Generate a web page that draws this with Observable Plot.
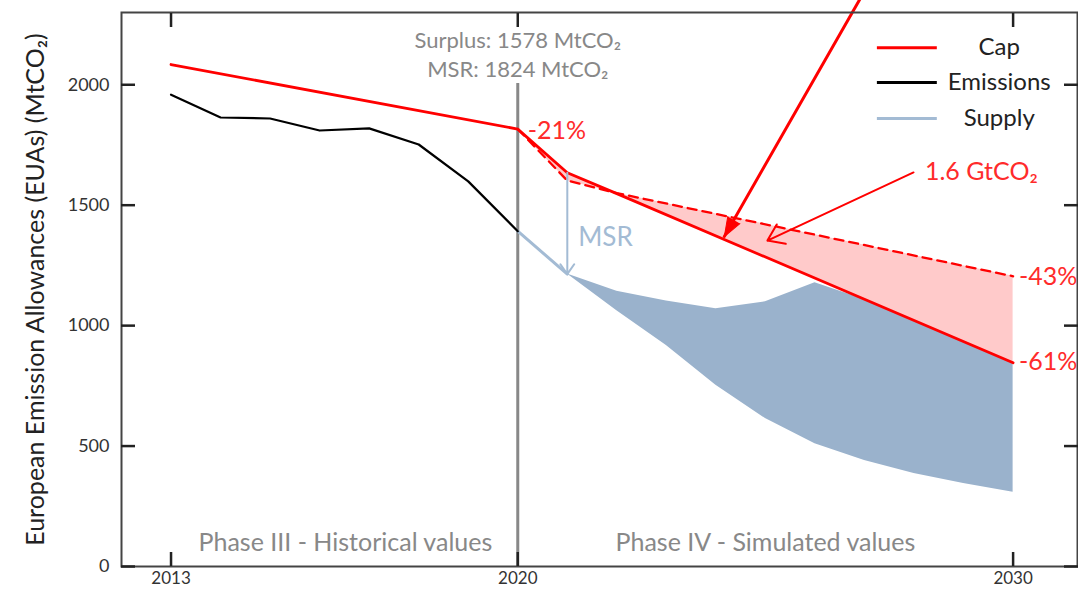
<!DOCTYPE html>
<html><head><meta charset="utf-8">
<script src="https://cdn.jsdelivr.net/npm/d3@7"></script>
<script src="https://cdn.jsdelivr.net/npm/@observablehq/plot@0.6"></script>
<style>body{margin:0;background:#fff;} svg{overflow:visible}</style>
</head><body><div id="chart"></div>
<script>
// ---- data ----
const histYears = [2013, 2014, 2015, 2016, 2017, 2018, 2019, 2020];
const emissions = [1959, 1864, 1860, 1810, 1819, 1752, 1599, 1392];

const capYears = [2013, 2020, 2021, 2022, 2030];
const capValues = [2084, 1816, 1635, 1548, 846];

const oldCapYears = [2020, 2021, 2022, 2030];
const oldCapValues = [1816, 1602, 1550, 1205];

const supplyLineYears = [2020, 2021];
const supplyLineValues = [1392, 1214];

const supplyYears = [2021, 2022, 2023, 2024, 2025, 2026, 2027, 2028, 2029, 2030];
const supplyHigh = [1214, 1143, 1102, 1070, 1099, 1178, 1109, 1021, 934, 846];
const supplyLow  = [1214, 1062, 917, 753, 614, 510, 440, 386, 345, 308];

const yTicks = [0, 500, 1000, 1500, 2000];
const xTicks = [2013, 2020, 2030];

const legendLabels = ["Cap", "Emissions", "Supply"];
const yTitle = "European Emission Allowances (EUAs) (MtCO₂)";
const headerLines = ["Surplus: 1578 MtCO₂", "MSR: 1824 MtCO₂"];
const phaseLabels = ["Phase III - Historical values", "Phase IV - Simulated values"];
const pctLabels = ["-21%", "-43%", "-61%"];
const gapLabel = "1.6 GtCO₂";
const msrLabel = "MSR";

// ---- annotation positions (data units) ----
const POS = {
  header: [[2020, 2183], [2020, 2063]],
  phase: [[2016.52, 98], [2025.0, 98]],
  pct: [[2020.2, 1810], [2030.12, 1200], [2030.12, 847]],
  gap: [2028.22, 1636],
  msr: [2021.22, 1366],
  gapArrow: [2027.99, 1636, 2025.04, 1353],
  bigArrow: [2026.92, 2360, 2024.17, 1370],
  phaseLineTop: 2005,
  legendX: [2027.26, 2028.47, 2029.72],
  legendY: [2154, 2009, 1860]
};

// ---- styles ----
const RED = "#ff0000", RED_TXT = "#ff2b2b", PINK = "#ffcaca";
const BLUE_FILL = "#9ab2cc", BLUE_LINE = "#a3bbd4", GREY = "#888888";
const legendColors = [RED, "#000000", BLUE_LINE];

// ---- tables ----
const emis = histYears.map((year, i) => ({year, value: emissions[i]}));
const cap = capYears.map((year, i) => ({year, value: capValues[i]}));
const oldCap = oldCapYears.map((year, i) => ({year, value: oldCapValues[i]}));
const supplyLine = supplyLineYears.map((year, i) => ({year, value: supplyLineValues[i]}));
const supply = supplyYears.map((year, i) => ({year, hi: supplyHigh[i], lo: supplyLow[i]}));
const gapArea = oldCapYears.map((year, i) => ({year, a: capValues[capYears.indexOf(year)], b: oldCapValues[i]}));
const msrArrow = [{x: 2021, y1: capValues[capYears.indexOf(2021)], y2: supplyLineValues[1]}];
const legend = legendLabels.map((label, i) => ({label, color: legendColors[i], y: POS.legendY[i]}));

const font = "Lato, 'Open Sans', sans-serif";
const FS = 25;

const chart = Plot.plot({
  width: 1078, height: 591,
  marginLeft: 121, marginRight: 1, marginTop: 12, marginBottom: 25,
  style: {fontFamily: font, background: "white", color: "#333"},
  x: {domain: [2012, 2031.3]},
  y: {domain: [0, 2300]},
  marks: [
    Plot.areaY(gapArea, {x: "year", y1: "a", y2: "b", fill: PINK, fillOpacity: 1}),
    Plot.areaY(supply, {x: "year", y1: "lo", y2: "hi", fill: BLUE_FILL, fillOpacity: 1}),
    Plot.ruleX([2020], {y1: 0, y2: POS.phaseLineTop, stroke: GREY, strokeWidth: 3}),
    Plot.line(supplyLine, {x: "year", y: "value", stroke: BLUE_LINE, strokeWidth: 3}),
    Plot.line(emis, {x: "year", y: "value", stroke: "#000", strokeWidth: 2.2}),
    Plot.line(oldCap, {x: "year", y: "value", stroke: RED, strokeWidth: 2.3, strokeDasharray: "9,6"}),
    Plot.line(cap, {x: "year", y: "value", stroke: RED, strokeWidth: 2.8}),
    Plot.arrow(msrArrow, {x: "x", y1: "y1", y2: "y2", stroke: BLUE_LINE, strokeWidth: 2, headLength: 9, headAngle: 70}),
    // arrows
    Plot.arrow([POS.gapArrow], {x1: d => d[0], y1: d => d[1], x2: d => d[2], y2: d => d[3], stroke: RED, strokeWidth: 2, headLength: 14, headAngle: 70}),
    Plot.arrow([POS.bigArrow], {x1: d => d[0], y1: d => d[1], x2: d => d[2], y2: d => d[3], stroke: RED, strokeWidth: 3, headLength: 0}),
    Plot.vector([POS.bigArrow], {x: d => d[2], y: d => d[3], shape: "spike", anchor: "end", rotate: 210, length: 19, r: 7, fill: RED, fillOpacity: 1, stroke: RED, strokeWidth: 1}),
    // texts
    Plot.text(headerLines, {x: (d, i) => POS.header[i][0], y: (d, i) => POS.header[i][1], fill: GREY, fontSize: 22}),
    Plot.text(phaseLabels, {x: (d, i) => POS.phase[i][0], y: (d, i) => POS.phase[i][1], fill: GREY, fontSize: FS}),
    Plot.text(pctLabels, {x: (d, i) => POS.pct[i][0], y: (d, i) => POS.pct[i][1], fill: RED_TXT, fontSize: FS, textAnchor: "start"}),
    Plot.text([gapLabel], {x: POS.gap[0], y: POS.gap[1], fill: RED_TXT, fontSize: FS, textAnchor: "start"}),
    Plot.text([msrLabel], {x: POS.msr[0], y: POS.msr[1], fill: BLUE_LINE, fontSize: FS + 1, textAnchor: "start"}),
    // legend
    Plot.ruleY(legend, {y: "y", x1: POS.legendX[0], x2: POS.legendX[1], stroke: "color", strokeWidth: 3}),
    Plot.text(legend, {y: "y", x: POS.legendX[2], text: "label", fill: "#222", fontSize: FS - 1}),
    // y title
    Plot.text([yTitle], {frameAnchor: "left", textAnchor: "middle", rotate: -90, dx: -86, fontSize: 25, fill: "#222"}),
    // axes & frame
    Plot.frame({stroke: "#444", strokeWidth: 2}),
    Plot.axisY({anchor: "left", ticks: yTicks, tickSize: -14, tickPadding: 26, tickFormat: d => String(d), fontSize: 18, label: null, strokeWidth: 2.5, stroke: "#222", fill: "#333"}),
    Plot.axisY({anchor: "right", ticks: yTicks, tickSize: -14, tickFormat: () => "", label: null, strokeWidth: 2.5, stroke: "#222"}),
    Plot.axisX({anchor: "bottom", ticks: xTicks, tickSize: -14, tickPadding: 19, tickFormat: d => String(d), fontSize: 17, label: null, strokeWidth: 2.5, stroke: "#222", fill: "#333"}),
    Plot.axisX({anchor: "top", ticks: xTicks, tickSize: -14, tickFormat: () => "", label: null, strokeWidth: 2.5, stroke: "#222"})
  ]
});
document.getElementById("chart").appendChild(chart);
</script>
</body></html>
